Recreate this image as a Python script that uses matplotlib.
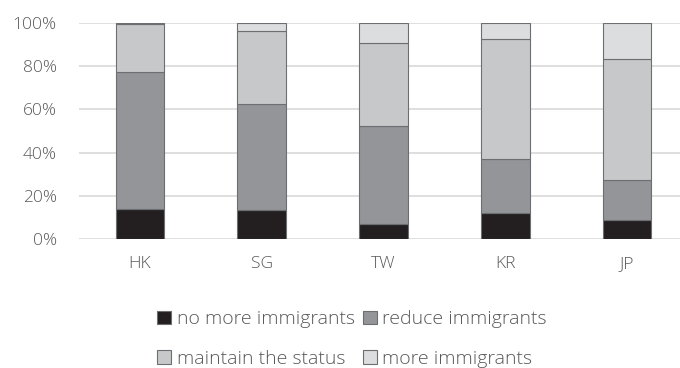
import matplotlib
matplotlib.use("Agg")
import matplotlib.pyplot as plt
import numpy as np

categories = ["HK", "SG", "TW", "KR", "JP"]
no_more = [14.0, 13.3, 6.8, 11.9, 8.9]
reduce_ = [63.2, 49.3, 45.5, 25.0, 18.3]
maintain = [22.2, 33.5, 38.3, 55.8, 56.1]
more = [0.6, 3.9, 9.4, 7.3, 16.7]
series_names = ["no more immigrants", "reduce immigrants", "maintain the status", "more immigrants"]
colors = ["#231f20", "#939598", "#c7c8ca", "#dcdddf"]

plt.rcParams['font.family'] = ['Open Sans', 'DejaVu Sans']
plt.rcParams['font.weight'] = 'light'
fig = plt.figure(figsize=(6.8, 3.68), dpi=100)
W, H = 680, 368
ax = fig.add_axes([79 / W, 1 - 239 / H, 609 / W, 216 / H])

x = np.arange(len(categories))
bottom = np.zeros(len(categories))
handles = []
for vals, name, c in zip([no_more, reduce_, maintain, more], series_names, colors):
    v = np.array(vals)
    b = ax.bar(x, v, 0.4, bottom=bottom, color=c, edgecolor="#6d6e71", linewidth=0.8, label=name, zorder=3)
    handles.append(b)
    bottom += v

ax.set_xlim(-0.5, 4.5)
ax.set_ylim(0, 100)
ax.set_yticks(np.arange(0, 101, 20))
ax.set_yticklabels([f"{t}%" for t in range(0, 101, 20)])
ax.set_xticks(x)
ax.set_xticklabels(categories)
ax.grid(axis="y", color="#d9d9d9", linewidth=1.2, zorder=0)
for s in ax.spines.values():
    s.set_visible(False)
ax.tick_params(axis="both", length=0, colors="#595959", labelsize=12.5)
ax.tick_params(axis="y", pad=16)
ax.tick_params(axis="x", pad=12)

order = [0, 2, 1, 3]
leg = fig.legend([handles[i] for i in order], [series_names[i] for i in order],
                 ncol=2, loc="center", bbox_to_anchor=(352 / W, 1 - 339 / H), frameon=False,
                 prop={'size': 14, 'weight': 'light'}, labelcolor="#595959",
                 handlelength=0.72, handleheight=0.72,
                 handletextpad=0.3, columnspacing=0.4, labelspacing=1.1)

fig.savefig("out.png", dpi=100)
